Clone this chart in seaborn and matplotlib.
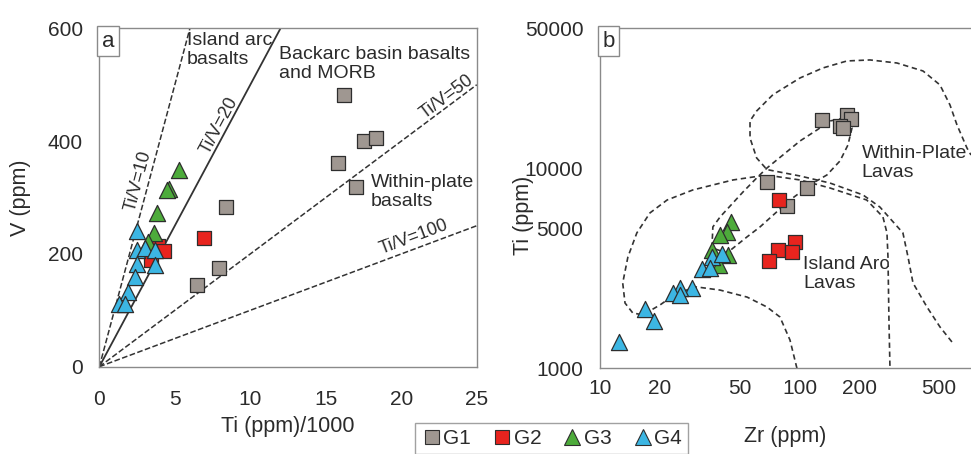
import numpy as np
import pandas as pd
import matplotlib
matplotlib.use("Agg")
import matplotlib.pyplot as plt
import seaborn as sns
from matplotlib.ticker import FixedLocator, FixedFormatter, NullLocator

sns.set_theme(style="white")
plt.rcParams["font.family"] = ["Liberation Sans", "DejaVu Sans"]

# ---- Panel a: Ti (ppm)/1000 vs V (ppm) ----
g1_ti = [16.2, 17.5, 18.3, 15.8, 17.0, 8.4, 7.9, 6.5]
g1_v = [482, 401, 406, 361, 319, 283, 175, 145]
g2_ti = [6.9, 3.9, 4.3, 3.4]
g2_v = [229, 214, 206, 189]
g3_ti = [5.3, 4.6, 4.5, 3.8, 3.6, 3.25]
g3_v = [349, 316, 313, 272, 237, 222]
g4_ti = [2.5, 2.5, 3.0, 3.7, 2.5, 3.7, 2.35, 1.9, 1.3, 1.7]
g4_v = [241, 207, 210, 207, 182, 180, 159, 133, 112, 112]

# ---- Panel b: Zr (ppm) vs Ti (ppm) ----
g1_zr = [129, 174, 181, 160, 166, 69, 109, 87]
g1_tib = [17440, 18450, 17630, 16240, 15850, 8510, 7940, 6500]
g2_zr = [79, 95, 78, 92, 70]
g2_tib = [6920, 4270, 3910, 3800, 3450]
g3_zr = [45.4, 43.2, 39.8, 36.3, 44.0, 39.6]
g3_tib = [5410, 4820, 4640, 3890, 3680, 3280]
g4_zr = [36.3, 40.7, 32.4, 35.6, 28.8, 25.2, 23.3, 25.2, 16.8, 18.7, 12.5]
g4_tib = [3590, 3720, 3130, 3160, 2510, 2510, 2370, 2330, 1970, 1720, 1360]

groups = ["G1", "G2", "G3", "G4"]
colors = {"G1": "#9f9791", "G2": "#e8241e", "G3": "#4dab3b", "G4": "#3cb6e3"}
markers = {"G1": "s", "G2": "s", "G3": "^", "G4": "^"}
sizes = {"G1": 90, "G2": 90, "G3": 135, "G4": 135}

# Ti/V ratio reference lines
ratios = [10, 20, 50, 100]
ratio_styles = {10: "--", 20: "-", 50: "--", 100: "--"}

# Field boundaries (Zr ppm, Ti ppm)
arc_zr = [97.1, 89.6, 79.8, 68.7, 54.6, 40.0, 30.6, 24.3, 20.0, 16.4, 14.6, 13.35, 13.0,
          13.8, 15.3, 17.8, 21.7, 29.2, 46.4, 63.4, 73.6, 100.6, 142.2, 217.3, 262.0,
          274.5, 277.7, 281.0, 284.2]
arc_ti = [1000, 1385, 1805, 2025, 2270, 2460, 2550, 2380, 2073, 1850, 1890, 2120, 2670,
          3600, 4750, 5980, 6940, 7790, 8740, 9150, 9150, 8740, 7970, 6940, 5710,
          4750, 3600, 1685, 1000]
wpl_zr = [581, 506, 435.5, 370.7, 350, 330, 253, 208, 142, 100.6, 68.7, 61.0, 56.5, 56.5,
          61.0, 73.6, 100.6, 131, 173, 225.6, 308, 416, 506, 568, 616, 691, 724]
wpl_ti = [1354, 1610, 2025, 2670, 3600, 4750, 6400, 7360, 8440, 9150, 9850, 11260, 14170,
          17240, 19340, 23330, 28280, 31730, 34400, 34800, 33600, 30650, 26100, 20730,
          16460, 12630, 11650]
morb_zr = [36.4, 36.8, 40.0, 46.4, 52.1, 61.0, 68.7, 82.6, 100.6, 122.4, 142.2, 169.0,
           183.3, 175.0, 159.6, 137.3, 116.9, 89.6, 63.4, 54.6, 43.3, 36.4]
morb_ti = [4000, 5090, 5710, 6710, 7610, 8940, 10030, 11650, 13690, 15540, 17240, 17840,
           15900, 13080, 10880, 9260, 8440, 6940, 5090, 4540, 3770, 4000]

a_ticks_x = [0, 5, 10, 15, 20, 25]
a_ticks_y = [0, 200, 400, 600]
b_ticks_x = [10, 20, 50, 100, 200, 500]
b_ticks_y = [1000, 5000, 10000, 50000]


def frame(group_lists):
    rows = []
    for g, xs, ys in group_lists:
        for x, y in zip(xs, ys):
            rows.append({"x": x, "y": y, "group": g})
    return pd.DataFrame(rows)


df_a = frame([("G1", g1_ti, g1_v), ("G2", g2_ti, g2_v), ("G3", g3_ti, g3_v), ("G4", g4_ti, g4_v)])
df_b = frame([("G1", g1_zr, g1_tib), ("G2", g2_zr, g2_tib), ("G3", g3_zr, g3_tib), ("G4", g4_zr, g4_tib)])

spine_c = "#8a8a8a"
text_c = "#2b2b2b"
edge_c = "#2e2e2e"
TICK_FS = 15
LABEL_FS = 15.5
NOTE_FS = 14

fig = plt.figure(figsize=(9.71, 4.54), dpi=100)
ax_a = fig.add_axes([0.1023, 0.1923, 0.3887, 0.7452])
ax_b = fig.add_axes([0.6179, 0.1888, 0.3821, 0.7485])


def draw_points(ax, df):
    for g in groups:
        sub = df[df.group == g]
        sns.scatterplot(data=sub, x="x", y="y", ax=ax, marker=markers[g], s=sizes[g],
                        color=colors[g], edgecolor=edge_c, linewidth=0.9, zorder=5,
                        legend=False)


def style_axis(ax, xpad, ypad):
    for sp in ax.spines.values():
        sp.set_color(spine_c)
        sp.set_linewidth(1.0)
    ax.tick_params(axis="both", which="both", direction="out", length=6, width=1.0,
                   color=spine_c, labelcolor=text_c, labelsize=TICK_FS)
    ax.tick_params(axis="x", pad=xpad)
    ax.tick_params(axis="y", pad=ypad)
    ax.grid(False)


def panel_tag(ax, s):
    ax.text(0.006, 0.993, s, transform=ax.transAxes, fontsize=16, color=text_c,
            ha="left", va="top",
            bbox=dict(boxstyle="square,pad=0.2", fc="white", ec=spine_c, lw=1.0), zorder=6)


# ---- Panel a ----
ax_a.set_xlim(0, 25)
ax_a.set_ylim(0, 600)
xs = np.array([0, 25])
for r in ratios:
    ax_a.plot(xs, xs * 1000 / r, ls=ratio_styles[r], color="#333333",
              lw=1.3 if r == 20 else 1.1, zorder=2)

draw_points(ax_a, df_a)

lab_kw = dict(color=text_c, fontsize=13, ha="center", va="center",
              transform_rotates_text=True, rotation_mode="anchor")
ax_a.text(2.55, 330, "Ti/V=10", rotation=np.degrees(np.arctan(100)), **lab_kw)
ax_a.text(7.95, 428, "Ti/V=20", rotation=np.degrees(np.arctan(50)), **lab_kw)
ax_a.text(23.0, 478, "Ti/V=50", rotation=np.degrees(np.arctan(20)), **lab_kw)
ax_a.text(20.8, 230, "Ti/V=100", rotation=np.degrees(np.arctan(10)), **lab_kw)

ax_a.text(5.8, 562, "Island arc\nbasalts", fontsize=NOTE_FS, color=text_c, ha="left",
          va="center", linespacing=1.15)
ax_a.text(11.9, 537, "Backarc basin basalts\nand MORB", fontsize=NOTE_FS, color=text_c,
          ha="left", va="center", linespacing=1.15)
ax_a.text(18.0, 309, "Within-plate\nbasalts", fontsize=NOTE_FS, color=text_c, ha="left",
          va="center", linespacing=1.15)

ax_a.xaxis.set_major_locator(FixedLocator(a_ticks_x))
ax_a.yaxis.set_major_locator(FixedLocator(a_ticks_y))
ax_a.yaxis.set_minor_locator(FixedLocator([100, 300, 500]))
ax_a.set_xlabel("Ti (ppm)/1000", fontsize=LABEL_FS, color=text_c)
ax_a.set_ylabel("V (ppm)", fontsize=LABEL_FS, color=text_c)
style_axis(ax_a, xpad=11, ypad=6)
ax_a.xaxis.set_label_coords(0.5, -0.145)
ax_a.yaxis.set_label_coords(-0.18, 0.5)
panel_tag(ax_a, "a")

# ---- Panel b ----
ax_b.set_xscale("log")
ax_b.set_yscale("log")
ax_b.set_xlim(10, 724)
ax_b.set_ylim(1000, 50000)
for fx, fy in [(arc_zr, arc_ti), (wpl_zr, wpl_ti), (morb_zr, morb_ti)]:
    ax_b.plot(fx, fy, ls=(0, (3.2, 2.2)), color="#333333", lw=1.2, zorder=2)

draw_points(ax_b, df_b)

ax_b.text(205, 10600, "Within-Plate\nLavas", fontsize=NOTE_FS, color=text_c, ha="left",
          va="center", linespacing=1.15)
ax_b.text(104, 2960, "Island Arc\nLavas", fontsize=NOTE_FS, color=text_c, ha="left",
          va="center", linespacing=1.15)

ax_b.xaxis.set_major_locator(FixedLocator(b_ticks_x))
ax_b.xaxis.set_major_formatter(FixedFormatter([str(v) for v in b_ticks_x]))
ax_b.xaxis.set_minor_locator(NullLocator())
ax_b.yaxis.set_major_locator(FixedLocator(b_ticks_y))
ax_b.yaxis.set_major_formatter(FixedFormatter([str(v) for v in b_ticks_y]))
ax_b.yaxis.set_minor_locator(NullLocator())
ax_b.set_xlabel("Zr (ppm)", fontsize=LABEL_FS, color=text_c)
ax_b.set_ylabel("Ti (ppm)", fontsize=LABEL_FS, color=text_c)
style_axis(ax_b, xpad=1.5, ypad=6)
ax_b.xaxis.set_label_coords(0.5, -0.17)
ax_b.yaxis.set_label_coords(-0.178, 0.45)
ax_b.spines["right"].set_visible(False)
panel_tag(ax_b, "b")

# ---- Shared legend ----
handles = [plt.Line2D([], [], ls="none", marker=markers[g], color=colors[g],
                      markeredgecolor=edge_c, markeredgewidth=0.8,
                      markersize=10 if markers[g] == "s" else 12) for g in groups]
leg = fig.legend(handles, groups, loc="upper left", bbox_to_anchor=(0.4274, 0.0683),
                 borderaxespad=0, ncol=4, frameon=True, fontsize=15, handletextpad=0.05,
                 columnspacing=1.0, borderpad=0.3, handlelength=1.0, fancybox=False)
leg.get_frame().set_edgecolor(spine_c)
leg.get_frame().set_linewidth(1.0)
for t in leg.get_texts():
    t.set_color(text_c)

fig.savefig("out.png", dpi=100)
